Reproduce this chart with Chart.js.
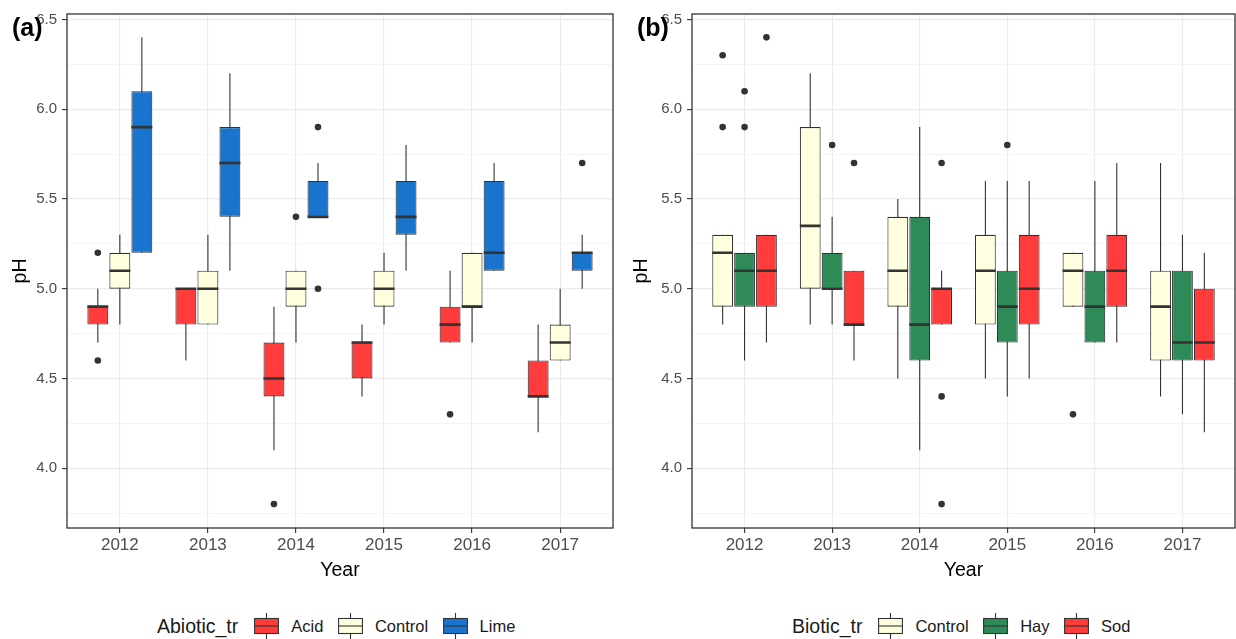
<!DOCTYPE html>
<html><head><meta charset="utf-8">
<script src="https://cdn.jsdelivr.net/npm/chart.js@4/dist/chart.umd.min.js"></script>
<style>
html,body{margin:0;padding:0;background:#fff;width:1236px;height:639px;overflow:hidden;font-family:"Liberation Sans",Arial,sans-serif;}
canvas{position:absolute;top:0;}
#ca{left:0}
#cb{left:618px}
.tag{position:absolute;font-weight:bold;font-size:25px;line-height:25px;color:#000;}
.legend{position:absolute;top:613px;height:26px;display:flex;align-items:center;white-space:nowrap;color:#1a1a1a;}
.legend .title{font-size:19.5px;margin-right:16px;}
.legend .lab{font-size:16.5px;margin-left:12px;margin-right:14.5px;}
.legend svg{display:block;}
</style></head>
<body>
<canvas id="ca" width="618" height="600"></canvas>
<canvas id="cb" width="622" height="600"></canvas>
<div class="tag" style="left:12px;top:15px">(a)</div>
<div class="tag" style="left:637px;top:15px">(b)</div>
<div class="legend" id="la" style="left:157px"></div>
<div class="legend" id="lb" style="left:792px"></div>
<script>
// ---------- data ----------
const years = [2012, 2013, 2014, 2015, 2016, 2017];
const yTicks = [3.75, 4.0, 4.25, 4.5, 4.75, 5.0, 5.25, 5.5, 5.75, 6.0, 6.25, 6.5];

// Panel (a): Abiotic_tr
const acidLo  = [4.7, 4.6, 4.1, 4.4, 4.7, 4.2];
const acidQ1  = [4.8, 4.8, 4.4, 4.5, 4.7, 4.4];
const acidMed = [4.9, 5.0, 4.5, 4.7, 4.8, 4.4];
const acidQ3  = [4.9, 5.0, 4.7, 4.7, 4.9, 4.6];
const acidHi  = [5.0, 5.0, 4.9, 4.8, 5.1, 4.8];
const acidOut = [[5.2, 4.6], [], [3.8], [], [4.3], []];

const ctrlALo  = [4.8, 4.8, 4.7, 4.8, 4.7, 4.6];
const ctrlAQ1  = [5.0, 4.8, 4.9, 4.9, 4.9, 4.6];
const ctrlAMed = [5.1, 5.0, 5.0, 5.0, 4.9, 4.7];
const ctrlAQ3  = [5.2, 5.1, 5.1, 5.1, 5.2, 4.8];
const ctrlAHi  = [5.3, 5.3, 5.1, 5.2, 5.2, 5.0];
const ctrlAOut = [[], [], [5.4], [], [], []];

const limeLo  = [5.2, 5.1, 5.4, 5.1, 5.1, 5.0];
const limeQ1  = [5.2, 5.4, 5.4, 5.3, 5.1, 5.1];
const limeMed = [5.9, 5.7, 5.4, 5.4, 5.2, 5.2];
const limeQ3  = [6.1, 5.9, 5.6, 5.6, 5.6, 5.2];
const limeHi  = [6.4, 6.2, 5.7, 5.8, 5.7, 5.3];
const limeOut = [[], [], [5.9, 5.0], [], [], [5.7]];

// Panel (b): Biotic_tr
const ctrlBLo  = [4.8, 4.8, 4.5, 4.5, 4.9, 4.4];
const ctrlBQ1  = [4.9, 5.0, 4.9, 4.8, 4.9, 4.6];
const ctrlBMed = [5.2, 5.35, 5.1, 5.1, 5.1, 4.9];
const ctrlBQ3  = [5.3, 5.9, 5.4, 5.3, 5.2, 5.1];
const ctrlBHi  = [5.3, 6.2, 5.5, 5.6, 5.2, 5.7];
const ctrlBOut = [[6.3, 5.9], [], [], [], [4.3], []];

const hayLo  = [4.6, 4.8, 4.1, 4.4, 4.7, 4.3];
const hayQ1  = [4.9, 5.0, 4.6, 4.7, 4.7, 4.6];
const hayMed = [5.1, 5.0, 4.8, 4.9, 4.9, 4.7];
const hayQ3  = [5.2, 5.2, 5.4, 5.1, 5.1, 5.1];
const hayHi  = [5.2, 5.4, 5.9, 5.6, 5.6, 5.3];
const hayOut = [[6.1, 5.9], [5.8], [], [5.8], [], []];

const sodLo  = [4.7, 4.6, 4.8, 4.5, 4.7, 4.2];
const sodQ1  = [4.9, 4.8, 4.8, 4.8, 4.9, 4.6];
const sodMed = [5.1, 4.8, 5.0, 5.0, 5.1, 4.7];
const sodQ3  = [5.3, 5.1, 5.0, 5.3, 5.3, 5.0];
const sodHi  = [5.3, 5.1, 5.1, 5.6, 5.7, 5.2];
const sodOut = [[6.4], [5.7], [5.7, 4.4, 3.8], [], [], []];

// ---------- styling ----------
const RED = '#FF3C3C', CREAM = '#FFFFE0', BLUE = '#1874CD', GREEN = '#2E8B57', INK = '#333333';
const FAMILY = "'Liberation Sans', Arial, sans-serif";
Chart.defaults.font.family = FAMILY;

const groupsA = [
  {name: 'Acid', color: RED, lo: acidLo, q1: acidQ1, med: acidMed, q3: acidQ3, hi: acidHi, out: acidOut},
  {name: 'Control', color: CREAM, lo: ctrlALo, q1: ctrlAQ1, med: ctrlAMed, q3: ctrlAQ3, hi: ctrlAHi, out: ctrlAOut},
  {name: 'Lime', color: BLUE, lo: limeLo, q1: limeQ1, med: limeMed, q3: limeQ3, hi: limeHi, out: limeOut}
];
const groupsB = [
  {name: 'Control', color: CREAM, lo: ctrlBLo, q1: ctrlBQ1, med: ctrlBMed, q3: ctrlBQ3, hi: ctrlBHi, out: ctrlBOut},
  {name: 'Hay', color: GREEN, lo: hayLo, q1: hayQ1, med: hayMed, q3: hayQ3, hi: hayHi, out: hayOut},
  {name: 'Sod', color: RED, lo: sodLo, q1: sodQ1, med: sodMed, q3: sodQ3, hi: sodHi, out: sodOut}
];

const DODGE = 0.25, HALF = 0.1187;

function buildDatasets(groups) {
  const n = groups.length;
  const ds = [];
  groups.forEach(g => {
    ds.push({
      type: 'bar', label: g.name,
      data: years.map((yr, i) => ({x: yr, y: [g.q1[i], g.q3[i]]})),
      backgroundColor: g.color, borderColor: INK, borderWidth: 1.1, borderSkipped: false,
      inflateAmount: 0, categoryPercentage: 0.75, barPercentage: 0.95, order: 2
    });
  });
  groups.forEach((g, gi) => {
    const off = (gi - (n - 1) / 2) * DODGE;
    const wh = [], md = [], ou = [];
    years.forEach((yr, i) => {
      const cx = yr + off;
      wh.push({x: cx, y: g.lo[i]}, {x: cx, y: g.hi[i]}, {x: cx, y: null});
      md.push({x: cx - HALF, y: g.med[i]}, {x: cx + HALF, y: g.med[i]}, {x: cx, y: null});
      g.out[i].forEach(v => ou.push({x: cx, y: v}));
    });
    ds.push({type: 'line', data: wh, borderColor: INK, borderWidth: 1.1, pointRadius: 0, spanGaps: false, fill: false, order: 3});
    ds.push({type: 'line', data: md, borderColor: INK, borderWidth: 2.6, borderCapStyle: 'butt', pointRadius: 0, spanGaps: false, fill: false, order: 1});
    ds.push({type: 'line', data: ou, showLine: false, pointRadius: 3.3, pointBackgroundColor: INK, pointBorderWidth: 0, order: 0});
  });
  return ds;
}

const isMajor = v => Math.abs(v * 2 - Math.round(v * 2)) < 1e-6;

const framePlugin = {
  id: 'frame',
  afterDraw(chart) {
    const {ctx, chartArea: a} = chart;
    ctx.save();
    ctx.strokeStyle = INK;
    ctx.lineWidth = 1.3;
    ctx.strokeRect(a.left, a.top, a.right - a.left, a.bottom - a.top);
    ctx.restore();
  }
};

function makeChart(id, groups, yWidth, padRight, pHPad) {
  return new Chart(document.getElementById(id), {
    type: 'bar',
    data: {datasets: buildDatasets(groups)},
    options: {
      responsive: false, animation: false, events: [],
      layout: {padding: {top: 14, right: padRight, left: 0, bottom: 0}},
      plugins: {legend: {display: false}, tooltip: {enabled: false}},
      scales: {
        x: {
          type: 'linear', min: 2011.4, max: 2017.6, offset: false, bounds: 'data',
          afterBuildTicks: s => { s.ticks = years.map(v => ({value: v})); },
          afterFit: s => { s.height = 72; },
          ticks: {callback: v => String(v), color: '#4D4D4D', font: {size: 17}, padding: 2, maxRotation: 0, autoSkip: false},
          grid: {color: '#EBEBEB', lineWidth: 1.2, tickColor: INK, tickLength: 5, tickWidth: 1.1, offset: false},
          border: {display: false},
          title: {display: true, text: 'Year', color: '#000', font: {size: 19.5}, padding: {top: 0, bottom: 18}}
        },
        y: {
          type: 'linear', min: 3.667, max: 6.53, bounds: 'data',
          afterBuildTicks: s => { s.ticks = yTicks.map(v => ({value: v})); },
          afterFit: s => { s.width = yWidth; },
          ticks: {callback: v => isMajor(v) ? v.toFixed(1) : '', color: '#4D4D4D', font: {size: 15}, padding: 5, autoSkip: false},
          grid: {
            color: c => (c.tick && isMajor(c.tick.value)) ? '#EBEBEB' : '#F2F2F2',
            lineWidth: c => (c.tick && isMajor(c.tick.value)) ? 1.2 : 0.8,
            tickColor: c => (c.tick && isMajor(c.tick.value)) ? INK : 'rgba(0,0,0,0)',
            tickLength: 5, tickWidth: 1.1
          },
          border: {display: false},
          title: {display: true, text: 'pH', color: '#000', font: {size: 19.5}, padding: {top: pHPad, bottom: 0}}
        }
      }
    },
    plugins: [framePlugin]
  });
}

makeChart('ca', groupsA, 67, 5, 9);
makeChart('cb', groupsB, 74, 5, 12);

// ---------- legends ----------
function keySvg(color) {
  return '<svg width="25" height="26" viewBox="0 0 25 26">' +
    '<line x1="12.5" y1="0" x2="12.5" y2="26" stroke="#333" stroke-width="1.1"/>' +
    '<rect x="0.6" y="5.5" width="23.8" height="15" fill="' + color + '" stroke="#333" stroke-width="1.1"/>' +
    '<line x1="0.6" y1="13" x2="24.4" y2="13" stroke="#333" stroke-width="1.1"/></svg>';
}
function buildLegend(id, title, groups) {
  let html = '<span class="title">' + title + '</span>';
  groups.forEach(g => { html += keySvg(g.color) + '<span class="lab">' + g.name + '</span>'; });
  document.getElementById(id).innerHTML = html;
}
buildLegend('la', 'Abiotic_tr', groupsA);
buildLegend('lb', 'Biotic_tr', groupsB);
</script>
</body></html>
